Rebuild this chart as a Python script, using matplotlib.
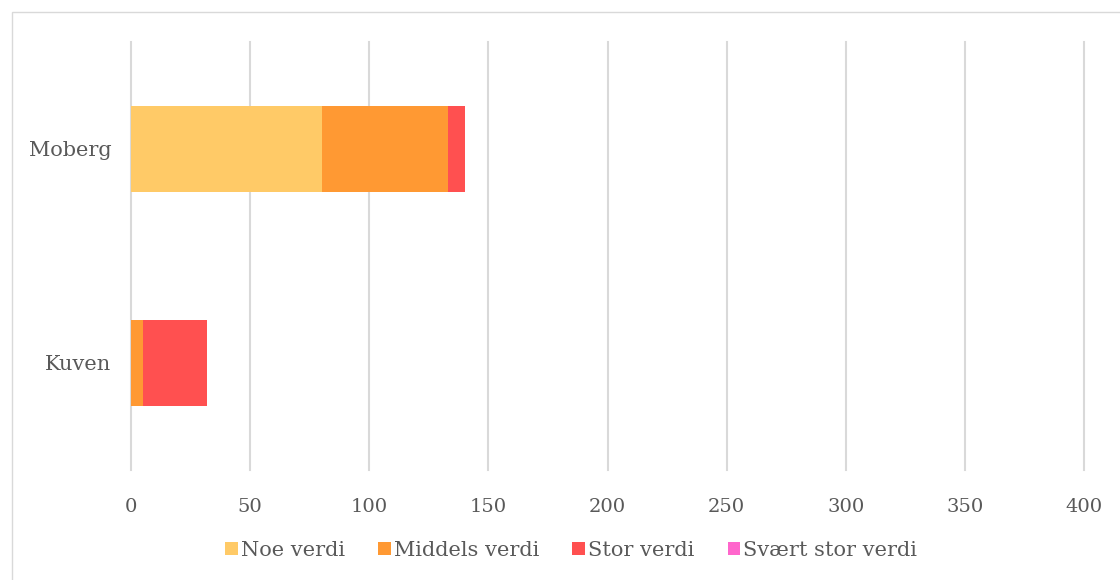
import numpy as np
import matplotlib.pyplot as plt
from matplotlib.patches import Rectangle

plt.rcParams['font.family'] = ['DejaVu Serif']

steder = ['Kuven', 'Moberg']
noe_verdi = [0, 80]
middels_verdi = [5, 53]
stor_verdi = [27, 7]
svaert_stor_verdi = [0, 0]

serier = ['Noe verdi', 'Middels verdi', 'Stor verdi', 'Svært stor verdi']
farger = ['#FFCA67', '#FF9933', '#FF5050', '#FF66CC']
ticks = [0, 50, 100, 150, 200, 250, 300, 350, 400]

fig = plt.figure(figsize=(11.2, 5.8), dpi=100)
ax = fig.add_axes([131/1120, 1-470/580, (1084-131)/1120, 428/580])

y = np.arange(len(steder))
left = np.zeros(len(steder))
for verdier, navn, farge in zip([noe_verdi, middels_verdi, stor_verdi, svaert_stor_verdi], serier, farger):
    ax.barh(y, verdier, left=left, height=0.4, color=farge, label=navn, zorder=3)
    left = left + np.array(verdier)

ax.set_xlim(0, 400)
ax.set_ylim(-0.5, 1.5)
ax.set_xticks(ticks)
ax.set_xticklabels([str(t) for t in ticks], fontsize=14, color='#595959')
ax.set_yticks(y)
ax.set_yticklabels(steder, fontsize=15, color='#595959')
ax.tick_params(axis='both', length=0)
ax.tick_params(axis='x', pad=20)
ax.tick_params(axis='y', pad=14)
ax.grid(axis='x', color='#D9D9D9', linewidth=1.5, zorder=0)
for gl in ax.get_xgridlines():
    gl.set_clip_on(False)
for s in ax.spines.values():
    s.set_visible(False)

leg = fig.legend(loc='center', bbox_to_anchor=(0.51, 1-550/580), ncol=4, frameon=False,
                 fontsize=15, handlelength=0.6, handleheight=0.6, handletextpad=0.15,
                 columnspacing=1.6)
for t in leg.get_texts():
    t.set_color('#595959')

fig.patches.append(Rectangle((12/1120, -0.1), 1.2, 1-12/580 + 0.1, transform=fig.transFigure,
                             fill=False, edgecolor='#D9D9D9', linewidth=1))

fig.savefig('out.png', dpi=100)
